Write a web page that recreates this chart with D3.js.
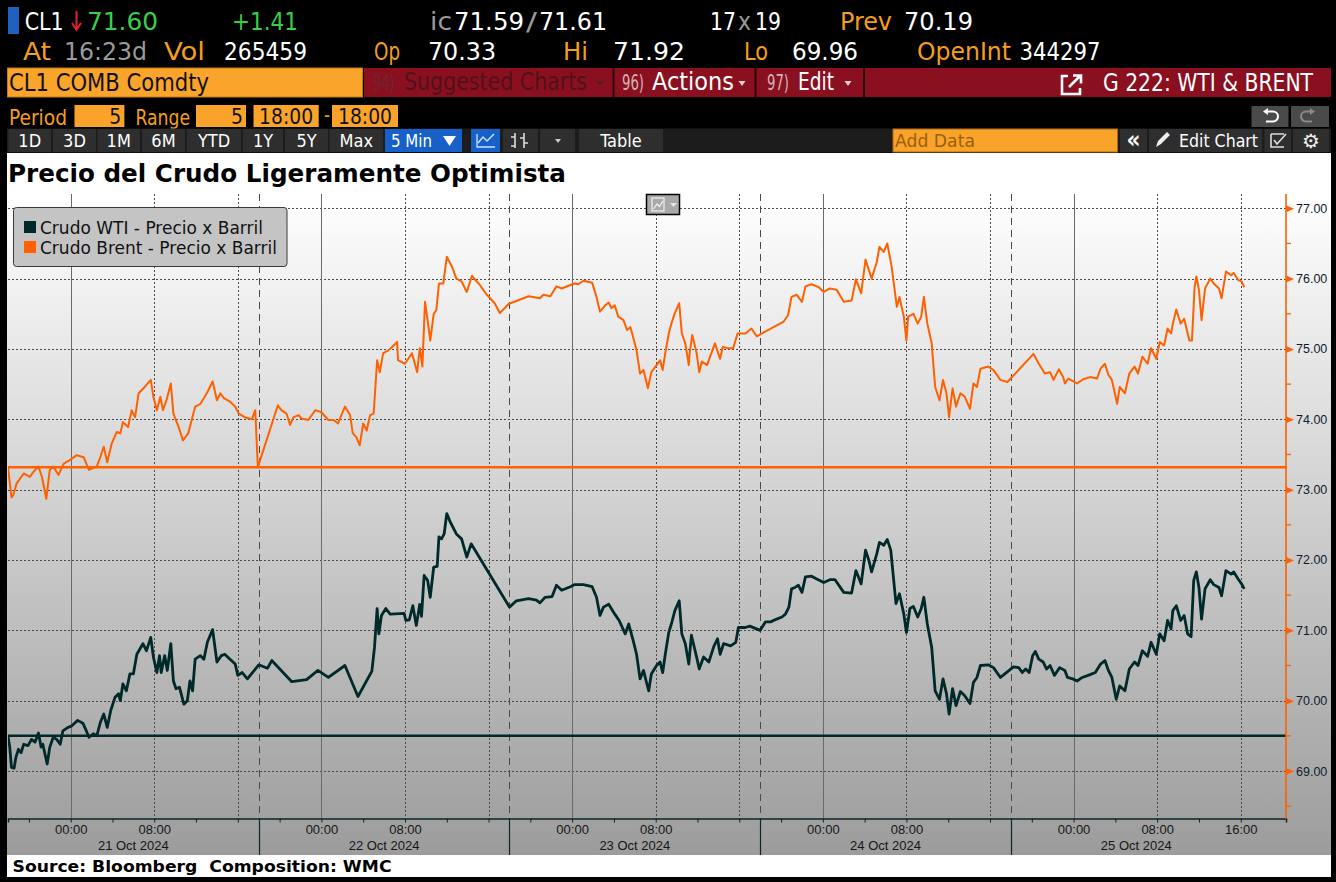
<!DOCTYPE html>
<html><head><meta charset="utf-8">
<script src="https://cdn.jsdelivr.net/npm/d3@7"></script>
<style>
html,body{margin:0;padding:0;background:#000;}
svg{display:block;}
</style></head><body>
<svg id="page" width="1336" height="882"></svg>
<script>
// ---------------- DATA ----------------
const chartTitle = "Precio del Crudo Ligeramente Optimista";
const sourceText = "Source: Bloomberg  Composition: WMC";
const seriesNames = ["Crudo WTI - Precio x Barril", "Crudo Brent - Precio x Barril"];
const seriesColors = ["#00292a", "#ff6000"];
const yTicks = [69, 70, 71, 72, 73, 74, 75, 76, 77];
const yMinorTicks = [68.5, 69.5, 70.5, 71.5, 72.5, 73.5, 74.5, 75.5, 76.5];
const timeTickLabels = ["10-21 00:00","10-21 08:00","10-22 00:00","10-22 08:00","10-23 00:00","10-23 08:00","10-24 00:00","10-24 08:00","10-25 00:00","10-25 08:00","10-25 16:00"];
const dayLabels = [["10-21","21 Oct 2024"],["10-22","22 Oct 2024"],["10-23","23 Oct 2024"],["10-24","24 Oct 2024"],["10-25","25 Oct 2024"]];

const brent = [
["10-20 18:00",73.32],["10-20 18:20",72.89],["10-20 18:30",72.92],["10-20 18:50",73.09],["10-20 19:30",73.23],["10-20 20:05",73.18],["10-20 20:25",73.25],["10-20 20:55",73.33],["10-20 21:15",73.18],["10-20 21:40",72.87],["10-20 22:00",73.28],["10-20 22:20",73.33],["10-20 22:50",73.21],["10-20 23:20",73.37],["10-20 23:55",73.42],
["10-21 00:35",73.49],["10-21 01:15",73.46],["10-21 01:45",73.28],["10-21 02:30",73.33],["10-21 02:50",73.46],["10-21 03:10",73.61],["10-21 03:30",73.39],["10-21 03:55",73.65],["10-21 04:25",73.82],["10-21 04:45",73.80],["10-21 05:00",73.96],["10-21 05:30",73.89],["10-21 05:50",74.13],["10-21 06:10",74.03],["10-21 06:30",74.37],["10-21 07:05",74.46],["10-21 07:40",74.56],["10-21 07:55",74.32],["10-21 08:15",74.13],["10-21 08:35",74.32],["10-21 08:50",74.13],["10-21 09:10",74.27],["10-21 09:35",74.51],["10-21 09:50",74.08],["10-21 10:20",73.89],["10-21 10:45",73.70],["10-21 11:15",73.80],["10-21 11:35",73.99],["10-21 11:55",74.18],["10-21 12:25",74.22],["10-21 12:50",74.32],["10-21 13:10",74.41],["10-21 13:35",74.54],["10-21 14:00",74.27],["10-21 14:20",74.37],["10-21 14:40",74.30],["10-21 15:15",74.25],["10-21 15:45",74.18],["10-21 16:05",74.08],["10-21 16:40",74.03],["10-21 17:20",74.00],["10-21 17:40",74.13],["10-21 17:55",73.32],
["10-21 19:50",74.20],["10-21 20:10",74.13],["10-21 20:40",74.08],["10-21 21:00",73.92],["10-21 21:20",74.03],["10-21 21:50",74.06],["10-21 22:05",74.01],["10-21 22:45",73.99],["10-21 23:25",74.13],
["10-22 00:00",74.10],["10-22 00:40",73.99],["10-22 01:10",73.99],["10-22 01:35",73.94],["10-22 02:15",74.18],["10-22 02:45",74.06],["10-22 03:00",73.80],["10-22 03:20",73.75],["10-22 03:40",73.63],["10-22 04:00",73.94],["10-22 04:20",73.84],["10-22 04:40",74.06],["10-22 05:00",74.08],["10-22 05:20",74.84],["10-22 05:35",74.67],["10-22 05:55",74.94],["10-22 06:25",74.98],["10-22 06:55",75.05],["10-22 07:15",75.10],["10-22 07:20",74.84],["10-22 08:00",74.79],["10-22 08:40",74.94],["10-22 09:10",74.67],["10-22 09:25",75.01],["10-22 09:40",74.75],["10-22 09:55",75.67],["10-22 10:10",75.41],["10-22 10:25",75.12],["10-22 10:45",75.50],["10-22 11:00",75.55],["10-22 11:15",75.93],["10-22 11:40",75.93],["10-22 12:00",76.31],["10-22 12:30",76.17],["10-22 12:55",76.00],["10-22 13:25",75.96],["10-22 13:55",75.81],["10-22 14:25",76.04],["10-22 14:45",75.98],["10-22 15:10",75.91],["10-22 15:50",75.77],["10-22 16:10",75.72],["10-22 16:35",75.65],["10-22 17:05",75.51],["10-22 17:55",75.64],
["10-22 19:50",75.75],["10-22 20:55",75.72],["10-22 21:15",75.77],["10-22 21:55",75.75],["10-22 22:30",75.89],["10-22 23:00",75.86],["10-22 23:50",75.91],
["10-23 00:15",75.93],["10-23 00:35",75.92],["10-23 01:05",75.97],["10-23 01:55",75.94],["10-23 02:20",75.74],["10-23 02:40",75.53],["10-23 03:10",75.62],["10-23 03:30",75.66],["10-23 03:45",75.58],["10-23 04:05",75.62],["10-23 04:25",75.46],["10-23 04:55",75.41],["10-23 05:15",75.27],["10-23 05:35",75.31],["10-23 05:50",75.17],["10-23 06:10",74.98],["10-23 06:30",74.65],["10-23 06:50",74.70],["10-23 07:15",74.44],["10-23 07:35",74.67],["10-23 08:05",74.77],["10-23 08:25",74.84],["10-23 08:40",74.70],["10-23 08:55",74.94],["10-23 09:15",75.22],["10-23 09:30",75.36],["10-23 09:50",75.51],["10-23 10:15",75.65],["10-23 10:30",75.22],["10-23 10:50",75.08],["10-23 11:10",74.77],["10-23 11:15",74.94],["10-23 11:30",75.20],["10-23 11:55",74.94],["10-23 12:10",74.67],["10-23 12:25",74.82],["10-23 12:55",74.77],["10-23 13:15",74.91],["10-23 13:40",75.08],["10-23 14:10",74.86],["10-23 14:25",75.03],["10-23 14:55",75.01],["10-23 15:25",75.01],["10-23 15:50",75.22],["10-23 16:35",75.22],["10-23 17:10",75.29],["10-23 17:40",75.18],
["10-23 20:15",75.39],["10-23 20:40",75.48],["10-23 21:00",75.74],["10-23 21:30",75.77],["10-23 22:00",75.67],["10-23 22:20",75.89],["10-23 22:55",75.92],["10-23 23:35",75.88],
["10-24 00:05",75.81],["10-24 00:40",75.86],["10-24 01:20",75.84],["10-24 02:00",75.67],["10-24 02:45",75.69],["10-24 03:10",75.99],["10-24 03:40",75.79],["10-24 04:05",76.27],["10-24 04:40",76.00],["10-24 05:10",76.24],["10-24 05:25",76.45],["10-24 05:50",76.38],["10-24 06:10",76.50],["10-24 06:35",76.17],["10-24 06:45",75.98],["10-24 07:05",75.60],["10-24 07:20",75.74],["10-24 07:45",75.46],["10-24 08:00",75.12],["10-24 08:10",75.46],["10-24 08:40",75.50],["10-24 09:05",75.36],["10-24 09:25",75.46],["10-24 09:40",75.74],["10-24 10:00",75.36],["10-24 10:25",75.08],["10-24 10:45",74.46],["10-24 11:10",74.27],["10-24 11:30",74.56],["10-24 11:50",74.37],["10-24 12:05",74.03],["10-24 12:25",74.44],["10-24 12:45",74.18],["10-24 13:10",74.37],["10-24 13:35",74.32],["10-24 14:05",74.15],["10-24 14:25",74.51],["10-24 14:45",74.46],["10-24 15:05",74.72],["10-24 15:50",74.75],["10-24 16:20",74.70],["10-24 17:00",74.56],["10-24 17:40",74.53],
["10-24 20:10",74.93],["10-24 20:40",74.79],["10-24 21:15",74.65],["10-24 21:45",74.67],["10-24 22:05",74.56],["10-24 22:35",74.71],["10-24 23:00",74.60],["10-24 23:10",74.51],["10-24 23:30",74.58],
["10-25 00:20",74.51],["10-25 00:55",74.57],["10-25 01:35",74.60],["10-25 02:15",74.58],["10-25 02:35",74.72],["10-25 03:00",74.79],["10-25 03:20",74.63],["10-25 03:40",74.56],["10-25 04:10",74.22],["10-25 04:25",74.46],["10-25 04:55",74.37],["10-25 05:20",74.65],["10-25 05:50",74.75],["10-25 06:10",74.65],["10-25 06:35",74.89],["10-25 07:05",74.79],["10-25 07:25",75.01],["10-25 07:55",74.86],["10-25 08:15",75.10],["10-25 08:40",75.05],["10-25 09:00",75.29],["10-25 09:20",75.22],["10-25 09:30",75.36],["10-25 09:50",75.56],["10-25 10:15",75.36],["10-25 10:35",75.43],["10-25 11:05",75.12],["10-25 11:20",75.12],["10-25 11:35",75.88],["10-25 11:45",76.03],["10-25 12:00",75.84],["10-25 12:15",75.41],["10-25 12:35",75.86],["10-25 13:05",76.00],["10-25 13:25",75.93],["10-25 13:55",75.86],["10-25 14:10",75.72],["10-25 14:35",76.10],["10-25 15:05",76.05],["10-25 15:20",76.08],["10-25 15:45",75.98],["10-25 16:05",75.96],["10-25 16:20",75.88]
];

const wti = [
["10-20 18:00",69.50],["10-20 18:10",69.34],["10-20 18:20",69.05],["10-20 18:35",69.04],["10-20 18:45",69.19],["10-20 19:00",69.31],["10-20 19:15",69.26],["10-20 19:30",69.38],["10-20 19:55",69.36],["10-20 20:15",69.45],["10-20 20:35",69.41],["10-20 20:55",69.54],["10-20 21:10",69.34],["10-20 21:20",69.38],["10-20 21:45",69.10],["10-20 22:00",69.34],["10-20 22:20",69.48],["10-20 22:40",69.45],["10-20 23:00",69.38],["10-20 23:15",69.57],["10-20 23:45",69.62],
["10-21 00:05",69.64],["10-21 00:40",69.72],["10-21 01:10",69.68],["10-21 01:30",69.57],["10-21 01:45",69.48],["10-21 02:10",69.53],["10-21 02:30",69.50],["10-21 02:50",69.69],["10-21 03:10",69.81],["10-21 03:30",69.62],["10-21 03:50",69.86],["10-21 04:15",70.05],["10-21 04:35",70.10],["10-21 04:45",70.00],["10-21 05:00",70.24],["10-21 05:20",70.14],["10-21 05:40",70.38],["10-21 06:00",70.38],["10-21 06:20",70.66],["10-21 06:55",70.81],["10-21 07:15",70.71],["10-21 07:40",70.90],["10-21 07:55",70.62],["10-21 08:15",70.40],["10-21 08:30",70.64],["10-21 08:40",70.40],["10-21 09:00",70.64],["10-21 09:15",70.43],["10-21 09:35",70.81],["10-21 09:50",70.28],["10-21 10:05",70.17],["10-21 10:25",70.19],["10-21 10:50",69.95],["10-21 11:10",70.00],["10-21 11:25",70.28],["10-21 11:40",70.14],["10-21 11:55",70.59],["10-21 12:25",70.64],["10-21 12:45",70.59],["10-21 13:05",70.83],["10-21 13:35",71.01],["10-21 14:00",70.55],["10-21 14:25",70.64],["10-21 14:45",70.66],["10-21 15:15",70.59],["10-21 15:45",70.52],["10-21 16:00",70.36],["10-21 16:25",70.40],["10-21 16:55",70.31],
["10-21 18:00",70.51],["10-21 18:50",70.46],["10-21 19:15",70.57],["10-21 21:10",70.27],["10-21 22:35",70.30],["10-21 23:40",70.43],
["10-22 00:40",70.33],["10-22 02:15",70.50],["10-22 03:30",70.06],["10-22 04:50",70.42],["10-22 05:05",70.76],["10-22 05:20",71.31],["10-22 05:30",70.95],["10-22 05:45",71.21],["10-22 06:10",71.31],["10-22 06:35",71.23],["10-22 07:55",71.24],["10-22 08:05",71.14],["10-22 08:25",71.15],["10-22 08:45",71.35],["10-22 09:05",71.07],["10-22 09:25",71.37],["10-22 09:35",71.20],["10-22 09:50",71.78],["10-22 10:10",71.71],["10-22 10:25",71.47],["10-22 10:45",71.90],["10-22 11:05",71.91],["10-22 11:15",72.33],["10-22 11:30",72.30],["10-22 11:45",72.37],["10-22 12:00",72.66],["10-22 12:20",72.54],["10-22 12:55",72.37],["10-22 13:25",72.30],["10-22 13:55",72.04],["10-22 14:20",72.23],
["10-22 18:00",71.33],["10-22 18:40",71.42],["10-22 19:50",71.45],["10-22 20:35",71.43],["10-22 20:55",71.39],["10-22 21:25",71.47],["10-22 22:05",71.48],["10-22 22:30",71.64],["10-22 23:00",71.57],["10-22 23:50",71.62],
["10-23 00:15",71.65],["10-23 01:05",71.65],["10-23 01:55",71.62],["10-23 02:20",71.47],["10-23 02:40",71.21],["10-23 03:00",71.33],["10-23 03:30",71.37],["10-23 04:05",71.23],["10-23 04:30",71.14],["10-23 05:05",70.95],["10-23 05:25",71.09],["10-23 05:50",70.86],["10-23 06:10",70.66],["10-23 06:30",70.31],["10-23 06:50",70.43],["10-23 07:05",70.28],["10-23 07:20",70.14],["10-23 07:35",70.38],["10-23 08:05",70.50],["10-23 08:25",70.55],["10-23 08:40",70.40],["10-23 08:55",70.66],["10-23 09:15",70.97],["10-23 09:30",71.09],["10-23 09:50",71.28],["10-23 10:15",71.42],["10-23 10:30",70.95],["10-23 10:50",70.81],["10-23 11:10",70.52],["10-23 11:25",70.93],["10-23 11:55",70.62],["10-23 12:10",70.45],["10-23 12:35",70.62],["10-23 13:05",70.55],["10-23 13:35",70.78],["10-23 13:55",70.88],["10-23 14:10",70.66],["10-23 14:30",70.81],["10-23 15:10",70.78],["10-23 15:40",70.83],["10-23 15:55",71.04],["10-23 16:35",71.04],["10-23 17:00",71.06],
["10-23 18:00",71.00],["10-23 18:30",71.12],["10-23 19:00",71.12],["10-23 19:35",71.16],["10-23 20:05",71.19],["10-23 20:25",71.23],["10-23 20:45",71.33],["10-23 21:00",71.59],["10-23 21:20",71.61],["10-23 21:40",71.64],["10-23 22:00",71.54],["10-23 22:20",71.76],["10-23 22:55",71.77],["10-23 23:25",71.73],
["10-24 00:05",71.68],["10-24 00:40",71.72],["10-24 01:10",71.72],["10-24 02:00",71.54],["10-24 02:45",71.53],["10-24 03:10",71.85],["10-24 03:40",71.66],["10-24 04:05",72.14],["10-24 04:25",71.99],["10-24 04:40",71.83],["10-24 05:10",72.09],["10-24 05:25",72.25],["10-24 05:50",72.21],["10-24 06:10",72.29],["10-24 06:30",72.14],["10-24 06:45",71.76],["10-24 07:00",71.38],["10-24 07:20",71.52],["10-24 07:45",71.23],["10-24 08:00",70.97],["10-24 08:20",71.31],["10-24 08:40",71.34],["10-24 09:05",71.19],["10-24 09:25",71.31],["10-24 09:40",71.47],["10-24 10:00",71.09],["10-24 10:25",70.76],["10-24 10:45",70.14],["10-24 11:10",70.02],["10-24 11:30",70.31],["10-24 11:50",70.10],["10-24 12:05",69.81],["10-24 12:25",70.17],["10-24 12:45",69.93],["10-24 13:10",70.13],["10-24 13:35",70.07],["10-24 14:05",69.96],["10-24 14:25",70.26],["10-24 14:45",70.33],["10-24 15:05",70.50],["10-24 15:50",70.51],["10-24 16:20",70.47],["10-24 17:00",70.33],
["10-24 18:15",70.48],["10-24 18:45",70.47],["10-24 19:05",70.40],["10-24 19:25",70.45],["10-24 19:45",70.40],["10-24 20:05",70.64],["10-24 20:20",70.70],["10-24 20:40",70.59],["10-24 21:05",70.55],["10-24 21:25",70.45],["10-24 21:45",70.50],["10-24 22:10",70.36],["10-24 22:40",70.47],["10-24 23:10",70.43],["10-24 23:25",70.33],["10-24 23:55",70.31],
["10-25 00:20",70.28],["10-25 00:50",70.33],["10-25 01:35",70.37],["10-25 02:05",70.40],["10-25 02:35",70.52],["10-25 03:00",70.57],["10-25 03:20",70.43],["10-25 03:40",70.33],["10-25 04:05",70.02],["10-25 04:25",70.21],["10-25 04:55",70.14],["10-25 05:20",70.45],["10-25 05:50",70.55],["10-25 06:10",70.50],["10-25 06:35",70.71],["10-25 07:05",70.63],["10-25 07:25",70.83],["10-25 07:55",70.66],["10-25 08:15",70.95],["10-25 08:40",70.85],["10-25 09:00",71.14],["10-25 09:20",71.02],["10-25 09:30",71.28],["10-25 09:50",71.35],["10-25 10:15",71.14],["10-25 10:35",71.21],["10-25 10:55",70.95],["10-25 11:15",70.91],["10-25 11:30",71.71],["10-25 11:45",71.83],["10-25 12:00",71.61],["10-25 12:15",71.16],["10-25 12:35",71.59],["10-25 13:05",71.72],["10-25 13:25",71.65],["10-25 13:55",71.61],["10-25 14:10",71.49],["10-25 14:35",71.85],["10-25 15:05",71.80],["10-25 15:20",71.83],["10-25 15:45",71.73],["10-25 16:05",71.66],["10-25 16:20",71.59]
];

// ---------------- RENDER ----------------
const svg = d3.select("#page");
const parseT = d3.utcParse("%Y-%m-%d %H:%M");
const T = s => parseT("2024-" + s);
const HDR = '"Liberation Sans Narrow","DejaVu Sans Condensed","Roboto Condensed","Liberation Sans",sans-serif';

const L = 8, R = 1286, TOP = 194, BOT = 818.5;
const x = d3.scaleUtc().domain([T("10-20 18:00"), T("10-25 20:20")]).range([L, R]);
const y = d3.scaleLinear().domain([68.325, 77.203]).range([BOT, TOP]);
const lastTime = T(wti[wti.length - 1][0]);

function txt(g, px, py, s, o) {
  const t = g.append("text").attr("x", px).attr("y", py).text(s)
    .attr("fill", o.c || "#fff").attr("font-size", o.fs || 24)
    .attr("font-family", o.ff || HDR).style("white-space", "pre");
  if (o.w) t.attr("textLength", o.w).attr("lengthAdjust", "spacingAndGlyphs");
  if (o.a) t.attr("text-anchor", o.a);
  if (o.fw) t.attr("font-weight", o.fw);
  return t;
}

const defs = svg.append("defs");
const grad = defs.append("linearGradient").attr("id", "bg").attr("x1", 0).attr("y1", 0).attr("x2", 0).attr("y2", 1);
grad.append("stop").attr("offset", "0%").attr("stop-color", "#ffffff");
grad.append("stop").attr("offset", "100%").attr("stop-color", "#9c9c9c");
defs.append("clipPath").attr("id", "plotclip").append("rect").attr("x", L).attr("y", TOP).attr("width", R - L).attr("height", BOT - TOP);

svg.append("rect").attr("width", 1336).attr("height", 882).attr("fill", "#000");

// ---------- header ----------
const hdr = svg.append("g");
const ORANGE = "#f59e1e", GRAY = "#9a9a9a", GREEN = "#37d046";
hdr.append("rect").attr("x", 8).attr("y", 7).attr("width", 11).attr("height", 27).attr("fill", "#1f5fbf");
[[24.7,39,"CL1","#fff"],[87,71,"71.60",GREEN],[232,66,"+1.41",GREEN],[430,22,"ic",GRAY],[454,70,"71.59","#fff"],[526,11,"/",GRAY],[539,68,"71.61","#fff"],
 [710,26,"17","#fff"],[738,13,"x",GRAY],[755,26,"19","#fff"],[840,52,"Prev",ORANGE],[904,69,"70.19","#fff"]]
 .forEach(d => txt(hdr, d[0], 30, d[2], {w: d[1], c: d[3], fs: 24}));
hdr.append("path").attr("d", "M76.5 11 V29 M72 23 L76.5 30 L81 23").attr("stroke", "#e3202c").attr("stroke-width", 2).attr("fill", "none");
[[23,28,"At",ORANGE],[64,83,"16:23d",GRAY],[164,41,"Vol",ORANGE],[224,83,"265459","#fff"],[374,26,"Op",ORANGE],[428,68,"70.33","#fff"],
 [563,25,"Hi",ORANGE],[613,72,"71.92","#fff"],[744,24,"Lo",ORANGE],[792,66,"69.96","#fff"],[917,94,"OpenInt",ORANGE],[1019.5,81,"344297","#fff"]]
 .forEach(d => txt(hdr, d[0], 60, d[2], {w: d[1], c: d[3], fs: 24}));

// row 3
hdr.append("rect").attr("x", 7.5).attr("y", 68).attr("width", 355).attr("height", 29).attr("fill", "#fba42c").attr("stroke", "#c27a10");
txt(hdr, 9, 91, "CL1 COMB Comdty", {w: 200, c: "#111", fs: 25});
const RED = "#8a1020";
hdr.append("rect").attr("x", 364).attr("y", 68).attr("width", 967).attr("height", 29).attr("fill", RED);
[613.5, 755.5, 864].forEach(sx => hdr.append("rect").attr("x", sx - 1).attr("y", 68).attr("width", 2).attr("height", 29).attr("fill", "#2a0508"));
txt(hdr, 373, 90, "94)", {w: 22, c: "#6a2630", fs: 22});
txt(hdr, 404, 90, "Suggested Charts", {w: 183, c: "#52101b", fs: 24});
txt(hdr, 622, 90, "96)", {w: 22, c: "#d3b2b6", fs: 22});
txt(hdr, 652, 90, "Actions", {w: 82, c: "#fff", fs: 24});
txt(hdr, 767, 90, "97)", {w: 22, c: "#d3b2b6", fs: 22});
txt(hdr, 798, 90, "Edit", {w: 36, c: "#fff", fs: 24});
[[600,"#5a1a22"],[742,"#e6cfd1"],[848,"#e6cfd1"]].forEach(d =>
  hdr.append("path").attr("d", `M${d[0]-3.5} 81 h7 l-3.5 5 z`).attr("fill", d[1]));
hdr.append("path").attr("d", "M1068 76 H1062 V94 H1080 V88").attr("stroke", "#fff").attr("stroke-width", 2.6).attr("fill", "none");
hdr.append("path").attr("d", "M1069 87 L1080 76 M1073 75.5 H1081 V83.5").attr("stroke", "#fff").attr("stroke-width", 2.6).attr("fill", "none");
txt(hdr, 1103, 91, "G 222: WTI & BRENT", {w: 210, c: "#fff", fs: 24});

// row 4
txt(hdr, 9, 124.5, "Period", {w: 58, c: ORANGE, fs: 21});
txt(hdr, 135.5, 124.5, "Range", {w: 54.5, c: ORANGE, fs: 21});
txt(hdr, 324, 122, "-", {w: 6, c: ORANGE, fs: 21});
[[74.5,124.4,"5","end"],[196,246,"5","end"],[253.5,318.7,"18:00","middle"],[332,398,"18:00","middle"]].forEach(d => {
  hdr.append("rect").attr("x", d[0]).attr("y", 105).attr("width", d[1] - d[0]).attr("height", 22).attr("fill", "#f9a32a");
  const tx = d[3] === "end" ? d[1] - 3 : (d[0] + d[1]) / 2;
  const t = txt(hdr, tx, 124, d[2], {c: "#111", fs: 21, a: d[3]});
  if (d[2] === "18:00") t.attr("textLength", 54).attr("lengthAdjust", "spacingAndGlyphs");
});
hdr.append("rect").attr("x", 1251.5).attr("y", 106).attr("width", 37).attr("height", 21).attr("fill", "#4a4a4a");
hdr.append("rect").attr("x", 1291).attr("y", 106).attr("width", 38).attr("height", 21).attr("fill", "#4a4a4a");
hdr.append("path").attr("d", "M1266 111.5 H1273 A5 5 0 0 1 1273 121.5 H1266").attr("stroke", "#fff").attr("stroke-width", 2).attr("fill", "none");
hdr.append("path").attr("d", "M1263 111.5 L1268 108 V115 Z").attr("fill", "#fff");
hdr.append("path").attr("d", "M1312 111.5 H1306 A5 5 0 0 0 1306 121.5 H1312").attr("stroke", "#8a8a8a").attr("stroke-width", 2).attr("fill", "none");
hdr.append("path").attr("d", "M1315 111.5 L1310 108 V115 Z").attr("fill", "#8a8a8a");

// row 5 toolbar
hdr.append("rect").attr("x", 7).attr("y", 128.5).attr("width", 1324).attr("height", 24).attr("fill", "#1c1c1c");
const btns = [[8.5,51,"1D"],[53,96,"3D"],[97.5,140,"1M"],[142,185,"6M"],[187,241,"YTD"],[243,283,"1Y"],[285,328,"5Y"],[329.5,383,"Max"],
  [385,462,"",1],[471,500,"",1],[503,538,""],[540,575,""],[579,663,"Table"],[1120,1147,""],[1149,1262,""],[1264.5,1291,""],[1293,1329,""]];
btns.forEach(b => {
  hdr.append("rect").attr("x", b[0]).attr("y", 129).attr("width", b[1] - b[0]).attr("height", 23).attr("fill", b[3] ? "#1760c8" : "#2e2e2e");
  if (b[2]) txt(hdr, (b[0] + b[1]) / 2, 147, b[2], {c: "#fff", fs: 18, a: "middle"});
});
txt(hdr, 1133.5, 148, "«", {c: "#fff", fs: 24, a: "middle", fw: "bold"});
txt(hdr, 391, 147, "5 Min", {w: 41, c: "#fff", fs: 18});
hdr.append("path").attr("d", "M443 136 h13 l-6.5 10 z").attr("fill", "#fff");
hdr.append("path").attr("d", "M477 134 V147 H495").attr("stroke", "#cfe0ff").attr("stroke-width", 1.3).attr("fill", "none");
hdr.append("path").attr("d", "M478 143 L483 137 L487 141 L494 134").attr("stroke", "#cfe0ff").attr("stroke-width", 1.5).attr("fill", "none");
hdr.append("path").attr("d", "M515 133 V148 M524 133 V148 M511 137 h4 M524 143 h4 M511 146 h4 M520 138 h4").attr("stroke", "#ddd").attr("stroke-width", 1.6).attr("fill", "none");
hdr.append("path").attr("d", "M555 139 h6 l-3 4 z").attr("fill", "#ccc");
hdr.append("rect").attr("x", 893).attr("y", 129).attr("width", 224.5).attr("height", 23).attr("fill", "#f9a32a").attr("stroke", "#a86a10");
txt(hdr, 895, 147, "Add Data", {w: 80, c: "#9a5f08", fs: 18});
hdr.append("path").attr("d", "M1156 147 L1158 141 L1167 132 L1170 135 L1161 144 Z").attr("fill", "#eee");
txt(hdr, 1179, 147, "Edit Chart", {w: 79, c: "#fff", fs: 18});
hdr.append("path").attr("d", "M1271 134 H1284 M1271 134 V147 H1284 M1274 140 L1277 144 L1286 134").attr("stroke", "#ddd").attr("stroke-width", 1.6).attr("fill", "none");
txt(hdr, 1311, 148, "⚙", {c: "#eee", fs: 20, a: "middle", ff: "DejaVu Sans"});

// ---------- chart area ----------
svg.append("rect").attr("x", 7).attr("y", 153).attr("width", 1324).attr("height", 41).attr("fill", "#fff");
svg.append("rect").attr("x", 7).attr("y", 194).attr("width", 1324).attr("height", 661).attr("fill", "url(#bg)");
svg.append("rect").attr("x", 7).attr("y", 855).attr("width", 1324).attr("height", 22).attr("fill", "#fff");

txt(svg, 8, 182, chartTitle, {c: "#000", fs: 24, fw: "bold", ff: "DejaVu Sans", w: 558});
txt(svg, 12.5, 871.5, sourceText, {c: "#000", fs: 16, fw: "bold", ff: "DejaVu Sans", w: 379});

const grid = svg.append("g");
yTicks.forEach(v => grid.append("line").attr("x1", L).attr("x2", R).attr("y1", Math.round(y(v)) + 0.5).attr("y2", Math.round(y(v)) + 0.5)
  .attr("stroke", "#4a4a4a").attr("stroke-dasharray", "2,2"));
const [d0, d1] = x.domain();
d3.utcHour.every(8).range(d0, lastTime).forEach(t => {
  const xx = Math.round(x(t)) + 0.5;
  const midnight = t.getUTCHours() === 0;
  grid.append("line").attr("x1", xx).attr("x2", xx).attr("y1", TOP).attr("y2", BOT)
    .attr("stroke", midnight ? "#6a6a6a" : "#4a4a4a").attr("stroke-width", 1)
    .attr("stroke-dasharray", midnight ? null : "2,2");
});
const sessions = d3.utcDay.range(d3.utcDay.floor(d0), d1).map(d => d3.utcHour.offset(d, 18)).filter(t => t > d0 && t < lastTime);
sessions.forEach(t => {
  const xx = Math.round(x(t)) + 0.5;
  grid.append("line").attr("x1", xx).attr("x2", xx).attr("y1", TOP).attr("y2", BOT)
    .attr("stroke", "#4a4a4a").attr("stroke-dasharray", "7,5");
});

svg.append("rect").attr("x", 646.5).attr("y", 194.5).attr("width", 33).attr("height", 20).attr("fill", "#a9a9a9").attr("stroke", "#000").attr("stroke-width", 1.5);
svg.append("rect").attr("x", 652).attr("y", 198).attr("width", 12).attr("height", 13).attr("fill", "none").attr("stroke", "#f4f4f4").attr("stroke-width", 1.2);
svg.append("path").attr("d", "M653.5 209 L657 204 L659.5 206.5 L663 201").attr("fill", "none").attr("stroke", "#f4f4f4").attr("stroke-width", 1.2);
svg.append("path").attr("d", "M670 203 h7 l-3.5 4 z").attr("fill", "#e6e6e6");

const plot = svg.append("g").attr("clip-path", "url(#plotclip)");
plot.append("line").attr("x1", L).attr("x2", R).attr("y1", y(brent[0][1])).attr("y2", y(brent[0][1])).attr("stroke", seriesColors[1]).attr("stroke-width", 2.5);
plot.append("line").attr("x1", L).attr("x2", R).attr("y1", y(wti[0][1])).attr("y2", y(wti[0][1])).attr("stroke", seriesColors[0]).attr("stroke-width", 2.5);

const line = d3.line().x(d => x(T(d[0]))).y(d => y(d[1]));
plot.append("path").datum(brent).attr("d", line).attr("fill", "none").attr("stroke", seriesColors[1]).attr("stroke-width", 2).attr("stroke-linejoin", "round");
plot.append("path").datum(wti).attr("d", line).attr("fill", "none").attr("stroke", seriesColors[0]).attr("stroke-width", 2.8).attr("stroke-linejoin", "round");

const lg = svg.append("g");
lg.append("rect").attr("x", 13.5).attr("y", 207.5).attr("width", 273.5).attr("height", 59).attr("rx", 3).attr("fill", "#c4c4c4").attr("stroke", "#3a3a3a");
seriesNames.forEach((n, i) => {
  lg.append("rect").attr("x", 24).attr("y", 221 + i * 20).attr("width", 12).attr("height", 12).attr("fill", seriesColors[i]);
  txt(lg, 40, 234 + i * 20, n, {c: "#111", fs: 17, ff: "DejaVu Sans"});
});

// x axis
const labelSet = new Set(timeTickLabels.map(s => +T(s)));
const xTickVals = d3.utcHour.every(4).range(d0, lastTime);
const xAxis = d3.axisBottom(x).tickValues(xTickVals).tickSize(4).tickPadding(2)
  .tickFormat(d => labelSet.has(+d) ? d3.utcFormat("%H:%M")(d) : "");
const gx = svg.append("g").attr("transform", `translate(0,${BOT})`).call(xAxis);
gx.select(".domain").attr("stroke", "#0d2626").attr("stroke-width", 1.5);
gx.selectAll(".tick line").attr("stroke", "#0d2626");
gx.selectAll("text").attr("font-family", "Liberation Sans").attr("font-size", 13).attr("fill", "#161616");
sessions.forEach(t => svg.append("line").attr("x1", Math.round(x(t)) + 0.5).attr("x2", Math.round(x(t)) + 0.5).attr("y1", BOT).attr("y2", 855).attr("stroke", "#0d2626").attr("stroke-width", 1.2));
dayLabels.forEach(d => txt(svg, x(T(d[0] + " 06:00")), 850, d[1], {c: "#161616", fs: 13, ff: "Liberation Sans", a: "middle"}));

// y axis (right)
const yAxis = d3.axisRight(y).tickValues(yTicks).tickFormat(d3.format(".2f")).tickSize(0).tickPadding(10);
const gy = svg.append("g").attr("transform", `translate(${R},0)`).call(yAxis);
gy.select(".domain").remove();
gy.selectAll("text").attr("font-family", "Liberation Sans").attr("font-size", 12.5).attr("fill", "#121a2e");
gy.selectAll(".tick").append("path").attr("d", "M0 -3.5 L8 0 L0 3.5 Z").attr("fill", seriesColors[1]);
yMinorTicks.forEach(v => svg.append("line").attr("x1", R).attr("x2", R + 5).attr("y1", y(v)).attr("y2", y(v)).attr("stroke", seriesColors[1]).attr("stroke-width", 1.3));
svg.append("line").attr("x1", R).attr("x2", R).attr("y1", TOP).attr("y2", BOT).attr("stroke", seriesColors[1]).attr("stroke-width", 1.6);
</script>
</body></html>
